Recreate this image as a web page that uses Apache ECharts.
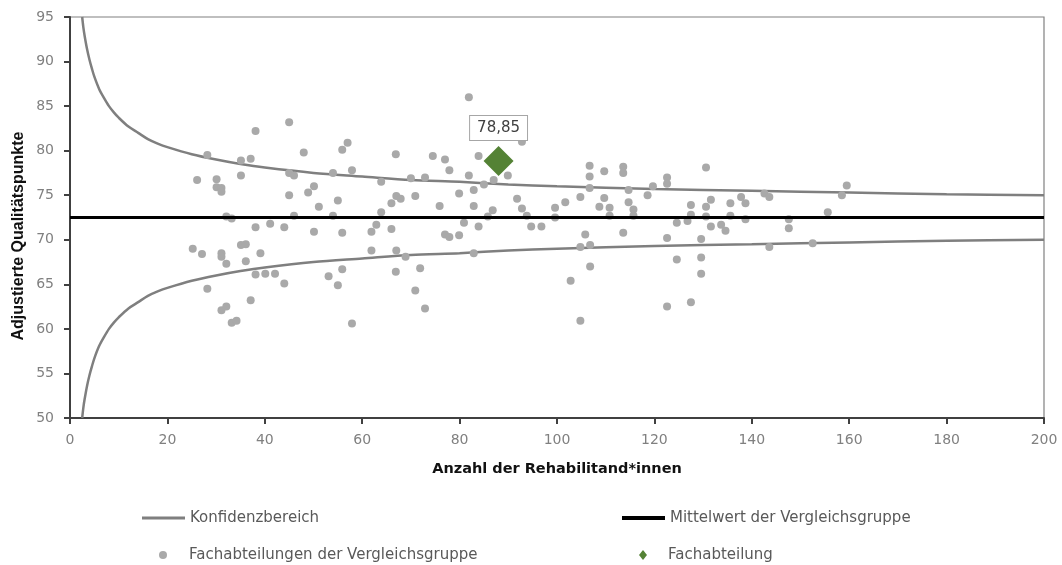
<!DOCTYPE html>
<html>
<head>
<meta charset="utf-8">
<title>Adjustierte Qualitätspunkte</title>
<script src="https://cdn.jsdelivr.net/npm/echarts@6/dist/echarts.min.js"></script>
<style>
  html, body { margin: 0; padding: 0; background: #fff; }
  #chart { width: 1062px; height: 565px; }
</style>
</head>
<body>
<div id="chart"></div>
<script>
// Fachabteilungen der Vergleichsgruppe: Anzahl Rehabilitand*innen / Punkte
var groupN = [
  45.0, 38.1, 48.0, 28.2, 35.1, 37.1, 45.0, 46.0, 26.1, 30.1, 35.1, 30.1, 31.1, 31.1, 45.0, 48.9,
  32.1, 33.2, 46.0, 38.1, 41.1, 44.0, 25.2, 27.1, 31.1, 31.1, 32.1, 35.1, 36.1, 36.1, 39.1, 38.1,
  40.1, 42.1, 44.0, 28.2, 37.1, 31.1, 32.1, 33.2, 34.2,
  57.0, 55.9, 66.9, 74.5, 54.0, 57.9, 63.9, 70.0, 72.9, 50.1, 51.1, 55.0, 66.0, 67.0, 67.9, 70.9,
  54.0, 63.9, 50.1, 55.9, 61.9, 62.9, 66.0, 61.9, 67.0, 68.9, 55.9, 53.1, 55.0, 66.9, 71.9, 70.9,
  72.9, 57.9,
  81.9, 92.8, 77.0, 77.9, 83.9, 81.9, 85.0, 87.0, 89.9, 79.9, 82.9, 91.8, 75.9, 82.9, 86.8, 85.8,
  92.8, 93.8, 99.6, 99.6, 80.9, 83.9, 94.7, 96.8, 77.0, 77.9, 79.9, 82.9,
  106.7, 106.7, 109.7, 113.6, 113.6, 122.6, 122.6, 106.7, 114.7, 119.7, 118.6, 104.8, 101.7, 109.7,
  108.7, 110.8, 114.7, 115.7, 110.8, 115.7, 124.6, 105.8, 113.6, 122.6, 104.8, 106.8, 124.6, 106.8,
  102.8, 122.6, 104.8,
  130.6, 127.5, 131.6, 130.6, 135.6, 137.8, 138.7, 142.6, 143.6, 126.8, 127.5, 130.6, 131.6, 133.7,
  134.6, 135.6, 138.7, 147.6, 147.6, 129.6, 143.6, 129.6, 129.6, 127.5,
  159.5, 158.5, 155.6, 152.5
];
var groupScore = [
  83.2, 82.2, 79.8, 79.5, 78.9, 79.1, 77.5, 77.2, 76.7, 76.8, 77.2, 75.9, 75.8, 75.4, 75.0, 75.3,
  72.6, 72.4, 72.7, 71.4, 71.8, 71.4, 69.0, 68.4, 68.5, 68.1, 67.3, 69.4, 69.5, 67.6, 68.5, 66.1,
  66.2, 66.2, 65.1, 64.5, 63.2, 62.1, 62.5, 60.7, 60.9,
  80.9, 80.1, 79.6, 79.4, 77.5, 77.8, 76.5, 76.9, 77.0, 76.0, 73.7, 74.4, 74.1, 74.9, 74.6, 74.9,
  72.7, 73.1, 70.9, 70.8, 70.9, 71.7, 71.2, 68.8, 68.8, 68.1, 66.7, 65.9, 64.9, 66.4, 66.8, 64.3,
  62.3, 60.6,
  86.0, 81.0, 79.0, 77.8, 79.4, 77.2, 76.2, 76.7, 77.2, 75.2, 75.6, 74.6, 73.8, 73.8, 73.3, 72.6,
  73.5, 72.7, 73.6, 72.5, 71.9, 71.5, 71.5, 71.5, 70.6, 70.3, 70.5, 68.5,
  78.3, 77.1, 77.7, 78.2, 77.5, 77.0, 76.3, 75.8, 75.6, 76.0, 75.0, 74.8, 74.2, 74.7,
  73.7, 73.6, 74.2, 73.4, 72.7, 72.7, 71.9, 70.6, 70.8, 70.2, 69.2, 69.4, 67.8, 67.0,
  65.4, 62.5, 60.9,
  78.1, 73.9, 74.5, 73.7, 74.1, 74.8, 74.1, 75.2, 74.8, 72.1, 72.8, 72.6, 71.5, 71.7,
  71.0, 72.7, 72.3, 72.3, 71.3, 70.1, 69.2, 68.0, 66.2, 63.0,
  76.1, 75.0, 73.1, 69.6
];

// eigene Fachabteilung
var deptN = [88];
var deptScore = [78.85];

// Mittelwert der Vergleichsgruppe
var meanN = [0, 200];
var meanScore = [72.5, 72.5];

// Konfidenzbereich
var ciN     = [2.5, 2.75, 3, 3.5, 4, 4.5, 5, 6, 7, 8, 9, 10, 12, 14, 16, 18, 20, 25, 30, 35, 40, 50,
               60, 70, 80, 90, 100, 120, 140, 160, 180, 200];
var ciUpper = [95.0, 93.8, 92.9, 91.4, 90.2, 89.2, 88.3, 86.9, 85.9, 85.0, 84.3, 83.7, 82.7, 82.0,
               81.3, 80.8, 80.4, 79.6, 79.0, 78.5, 78.1, 77.5, 77.1, 76.7, 76.5, 76.2, 76.0, 75.7,
               75.5, 75.3, 75.1, 75.0];
var ciLower = [50.0, 51.2, 52.1, 53.6, 54.8, 55.8, 56.7, 58.1, 59.1, 60.0, 60.7, 61.3, 62.3, 63.0,
               63.7, 64.2, 64.6, 65.4, 66.0, 66.5, 66.9, 67.5, 67.9, 68.3, 68.5, 68.8, 69.0, 69.3,
               69.5, 69.7, 69.9, 70.0];

var xTicks = { min: 0, max: 200, interval: 20 };
var yTicks = { min: 50, max: 95, interval: 5 };

function pairs(xs, ys) {
  return xs.map(function (x, i) { return [x, ys[i]]; });
}

var grey = '#7f7f7f';
var legendText = { fontFamily: 'DejaVu Sans', fontSize: 15, color: '#595959', lineHeight: 18 };

var option = {
  animation: false,
  grid: {
    left: 70, right: 18, top: 17, bottom: 147,
    show: true, borderColor: '#808080', borderWidth: 1.2
  },
  xAxis: {
    type: 'value',
    min: xTicks.min, max: xTicks.max, interval: xTicks.interval,
    name: 'Anzahl der Rehabilitand*innen',
    nameLocation: 'middle',
    nameGap: 44,
    nameTextStyle: { fontFamily: 'DejaVu Sans', fontWeight: 'bold', fontSize: 14.5, color: '#111' },
    axisLine: { show: true, lineStyle: { color: '#404040', width: 2 } },
    axisTick: { show: true, length: 6, lineStyle: { color: '#404040', width: 2 } },
    axisLabel: { margin: 15, fontFamily: 'DejaVu Sans', fontSize: 14, color: '#808080' },
    splitLine: { show: false }
  },
  yAxis: {
    type: 'value',
    min: yTicks.min, max: yTicks.max, interval: yTicks.interval,
    axisLine: { show: true, lineStyle: { color: '#404040', width: 2 } },
    axisTick: { show: true, length: 6, lineStyle: { color: '#404040', width: 2 } },
    axisLabel: { margin: 16, fontFamily: 'DejaVu Sans', fontSize: 14, color: '#808080' },
    splitLine: { show: false }
  },
  graphic: [{
    type: 'text',
    x: 19, y: 236,
    rotation: Math.PI / 2,
    style: {
      text: 'Adjustierte Qualitätspunkte',
      fontFamily: 'Liberation Sans', fontWeight: 'bold', fontSize: 16,
      fill: '#111', align: 'center', verticalAlign: 'middle'
    }
  }],
  legend: [
    { left: 137, top: 504, selectedMode: false, icon: 'rect', itemWidth: 43, itemHeight: 3,
      textStyle: legendText, data: ['Konfidenzbereich'] },
    { left: 617, top: 504, selectedMode: false, icon: 'rect', itemWidth: 43, itemHeight: 4,
      textStyle: legendText, data: ['Mittelwert der Vergleichsgruppe'] },
    { left: 154, top: 541, selectedMode: false, icon: 'circle', itemWidth: 8, itemHeight: 8,
      textStyle: Object.assign({ padding: [0, 0, 0, 17] }, legendText),
      data: ['Fachabteilungen der Vergleichsgruppe'] },
    { left: 634, top: 541, selectedMode: false, icon: 'diamond', itemWidth: 8, itemHeight: 10,
      textStyle: Object.assign({ padding: [0, 0, 0, 16] }, legendText),
      data: ['Fachabteilung'] }
  ],
  series: [
    {
      name: 'Konfidenzbereich', type: 'line', data: pairs(ciN, ciUpper),
      showSymbol: false, smooth: 0.3, clip: true,
      itemStyle: { color: grey }, lineStyle: { color: grey, width: 2.5 }
    },
    {
      name: 'Konfidenzbereich', type: 'line', data: pairs(ciN, ciLower),
      showSymbol: false, smooth: 0.3, clip: true,
      itemStyle: { color: grey }, lineStyle: { color: grey, width: 2.5 }
    },
    {
      name: 'Fachabteilungen der Vergleichsgruppe', type: 'scatter',
      data: pairs(groupN, groupScore),
      symbol: 'circle', symbolSize: 8,
      itemStyle: { color: '#a9a9a9', opacity: 1 },
      z: 3
    },
    {
      name: 'Mittelwert der Vergleichsgruppe', type: 'line', data: pairs(meanN, meanScore),
      showSymbol: false,
      itemStyle: { color: '#000' }, lineStyle: { color: '#000', width: 3 },
      z: 4
    },
    {
      name: 'Fachabteilung', type: 'scatter',
      data: pairs(deptN, deptScore),
      symbol: 'diamond', symbolSize: [30, 30],
      itemStyle: { color: '#548235', opacity: 1 },
      label: {
        show: true, position: 'top', distance: 6,
        formatter: function (p) { return p.value[1].toFixed(2).replace('.', ','); },
        fontFamily: 'DejaVu Sans', fontSize: 15, color: '#404040',
        backgroundColor: '#fff', borderColor: '#a6a6a6', borderWidth: 1,
        padding: [5, 7, 4, 7]
      },
      z: 5
    }
  ]
};

var mychart = echarts.init(document.getElementById('chart'));
mychart.setOption(option);
</script>
</body>
</html>
